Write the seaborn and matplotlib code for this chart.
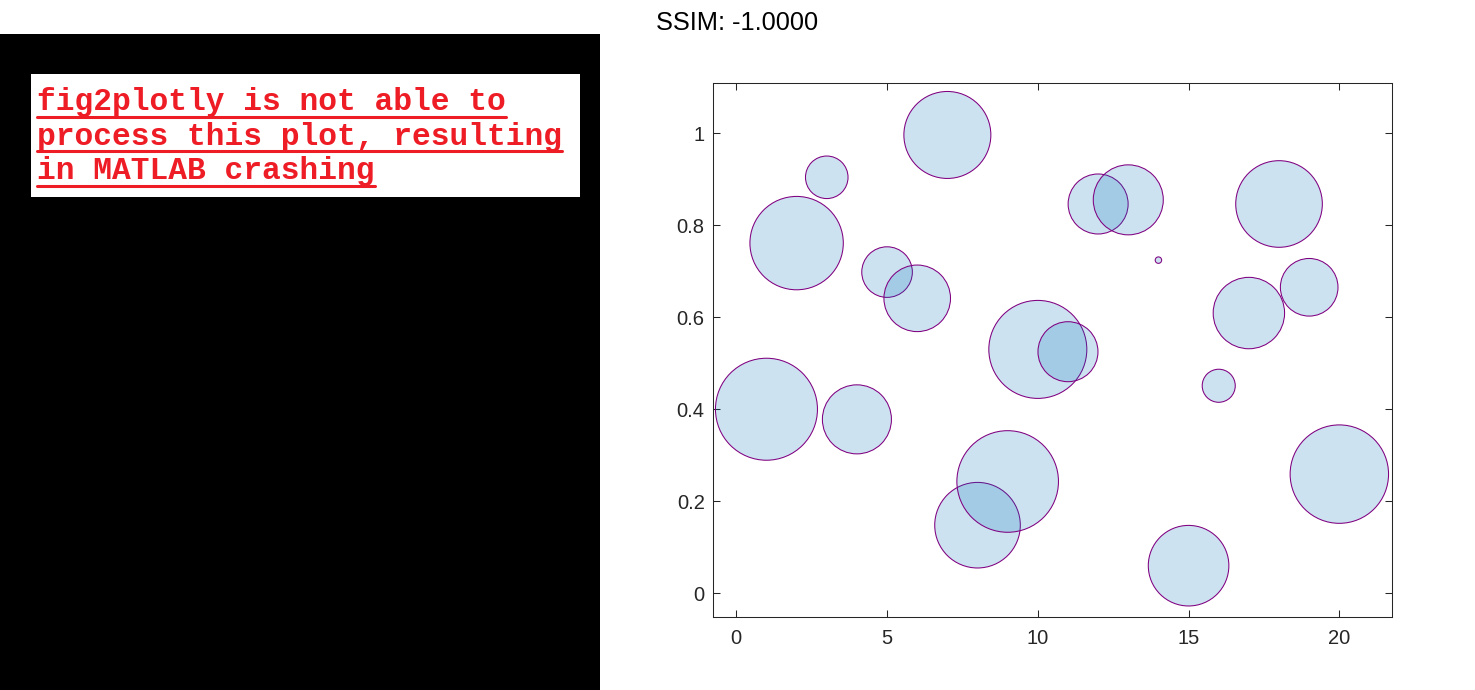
import numpy as np
import pandas as pd
import matplotlib
matplotlib.use("Agg")
import matplotlib.pyplot as plt
from matplotlib.lines import Line2D
from matplotlib.patches import Rectangle
import seaborn as sns

# bubble data
x_vals = list(range(1, 21))
y_vals = [0.400, 0.761, 0.904, 0.378, 0.698, 0.641, 0.996, 0.148, 0.243, 0.530,
          0.525, 0.846, 0.855, 0.724, 0.060, 0.451, 0.609, 0.846, 0.665, 0.259]
bubble_sz = [1.000, 0.838, 0.174, 0.458, 0.246, 0.426, 0.727, 0.704, 0.992, 0.923,
             0.346, 0.346, 0.471, 0.004, 0.624, 0.105, 0.490, 0.721, 0.319, 0.931]
x_ticks = [0, 5, 10, 15, 20]
y_ticks = [0, 0.2, 0.4, 0.6, 0.8, 1]

title_text = "SSIM: -1.0000"
note_lines = ["fig2plotly is not able to",
              "process this plot, resulting",
              "in MATLAB crashing"]

W, H = 1475, 690
DPI = 100

sns.set_style("ticks")
plt.rcParams['font.family'] = ['Liberation Sans', 'DejaVu Sans']

fig = plt.figure(figsize=(W / DPI, H / DPI), dpi=DPI)
fig.patch.set_facecolor("white")

def fx(px):
    return px / W

def fy(py):
    return 1 - py / H

# left black panel with the white note box
fig.add_artist(Rectangle((0, 0), fx(600), fy(34), transform=fig.transFigure,
                         facecolor="black", edgecolor="none", zorder=0))
fig.add_artist(Rectangle((fx(31), fy(197.5)), fx(580) - fx(31), fy(74) - fy(197.5),
                         transform=fig.transFigure, facecolor="white",
                         edgecolor="none", zorder=1))

red = "#ee1c25"
baselines = [110, 144.5, 179]
texts = []
for line, by in zip(note_lines, baselines):
    t = fig.text(fx(37), fy(by), line, family="Liberation Mono", weight="bold",
                 fontsize=22.5, color=red, va="baseline", ha="left", zorder=2)
    texts.append((t, by))

# bubble chart
ax = fig.add_axes([fx(713), fy(617), fx(1391.5) - fx(713), fy(82.5) - fy(617)])
df = pd.DataFrame({"x": x_vals, "y": y_vals, "sz": bubble_sz})
s_max = (2 * 51 * 72 / DPI) ** 2
sns.scatterplot(data=df, x="x", y="y", size="sz",
                sizes=(s_max * min(bubble_sz) / max(bubble_sz), s_max),
                legend=False, ax=ax, linewidth=0.75, zorder=3)
coll = ax.collections[0]
coll.set_facecolor((0.0, 0.447, 0.741, 0.2))
coll.set_edgecolor("#800080")
coll.set_linewidth(0.75)

ax.set_xlim(-0.773, 21.73)
ax.set_ylim(-0.0515, 1.110)
ax.set_xticks(x_ticks)
ax.set_yticks(y_ticks)
ax.set_xticklabels([str(v) for v in x_ticks])
ax.set_yticklabels(["0", "0.2", "0.4", "0.6", "0.8", "1"])
ax.set_xlabel("")
ax.set_ylabel("")
for sp in ax.spines.values():
    sp.set_visible(True)
    sp.set_color("#262626")
    sp.set_linewidth(0.75)
ax.tick_params(direction="in", length=5, width=0.75, top=True, right=True,
               labelsize=14.5, colors="#262626")
ax.tick_params(axis="x", pad=9)
ax.tick_params(axis="y", pad=6)

fig.text(fx(656), fy(29.5), title_text, fontsize=18.3, color="black",
         va="baseline", ha="left")

# underline the note text
fig.canvas.draw()
renderer = fig.canvas.get_renderer()
for t, by in texts:
    bb = t.get_window_extent(renderer)
    uy = fy(by + 6.5)
    fig.add_artist(Line2D([fx(37), bb.x1 / W], [uy, uy], transform=fig.transFigure,
                          color=red, linewidth=2.2, zorder=2))

fig.savefig("out.png", dpi=DPI)
